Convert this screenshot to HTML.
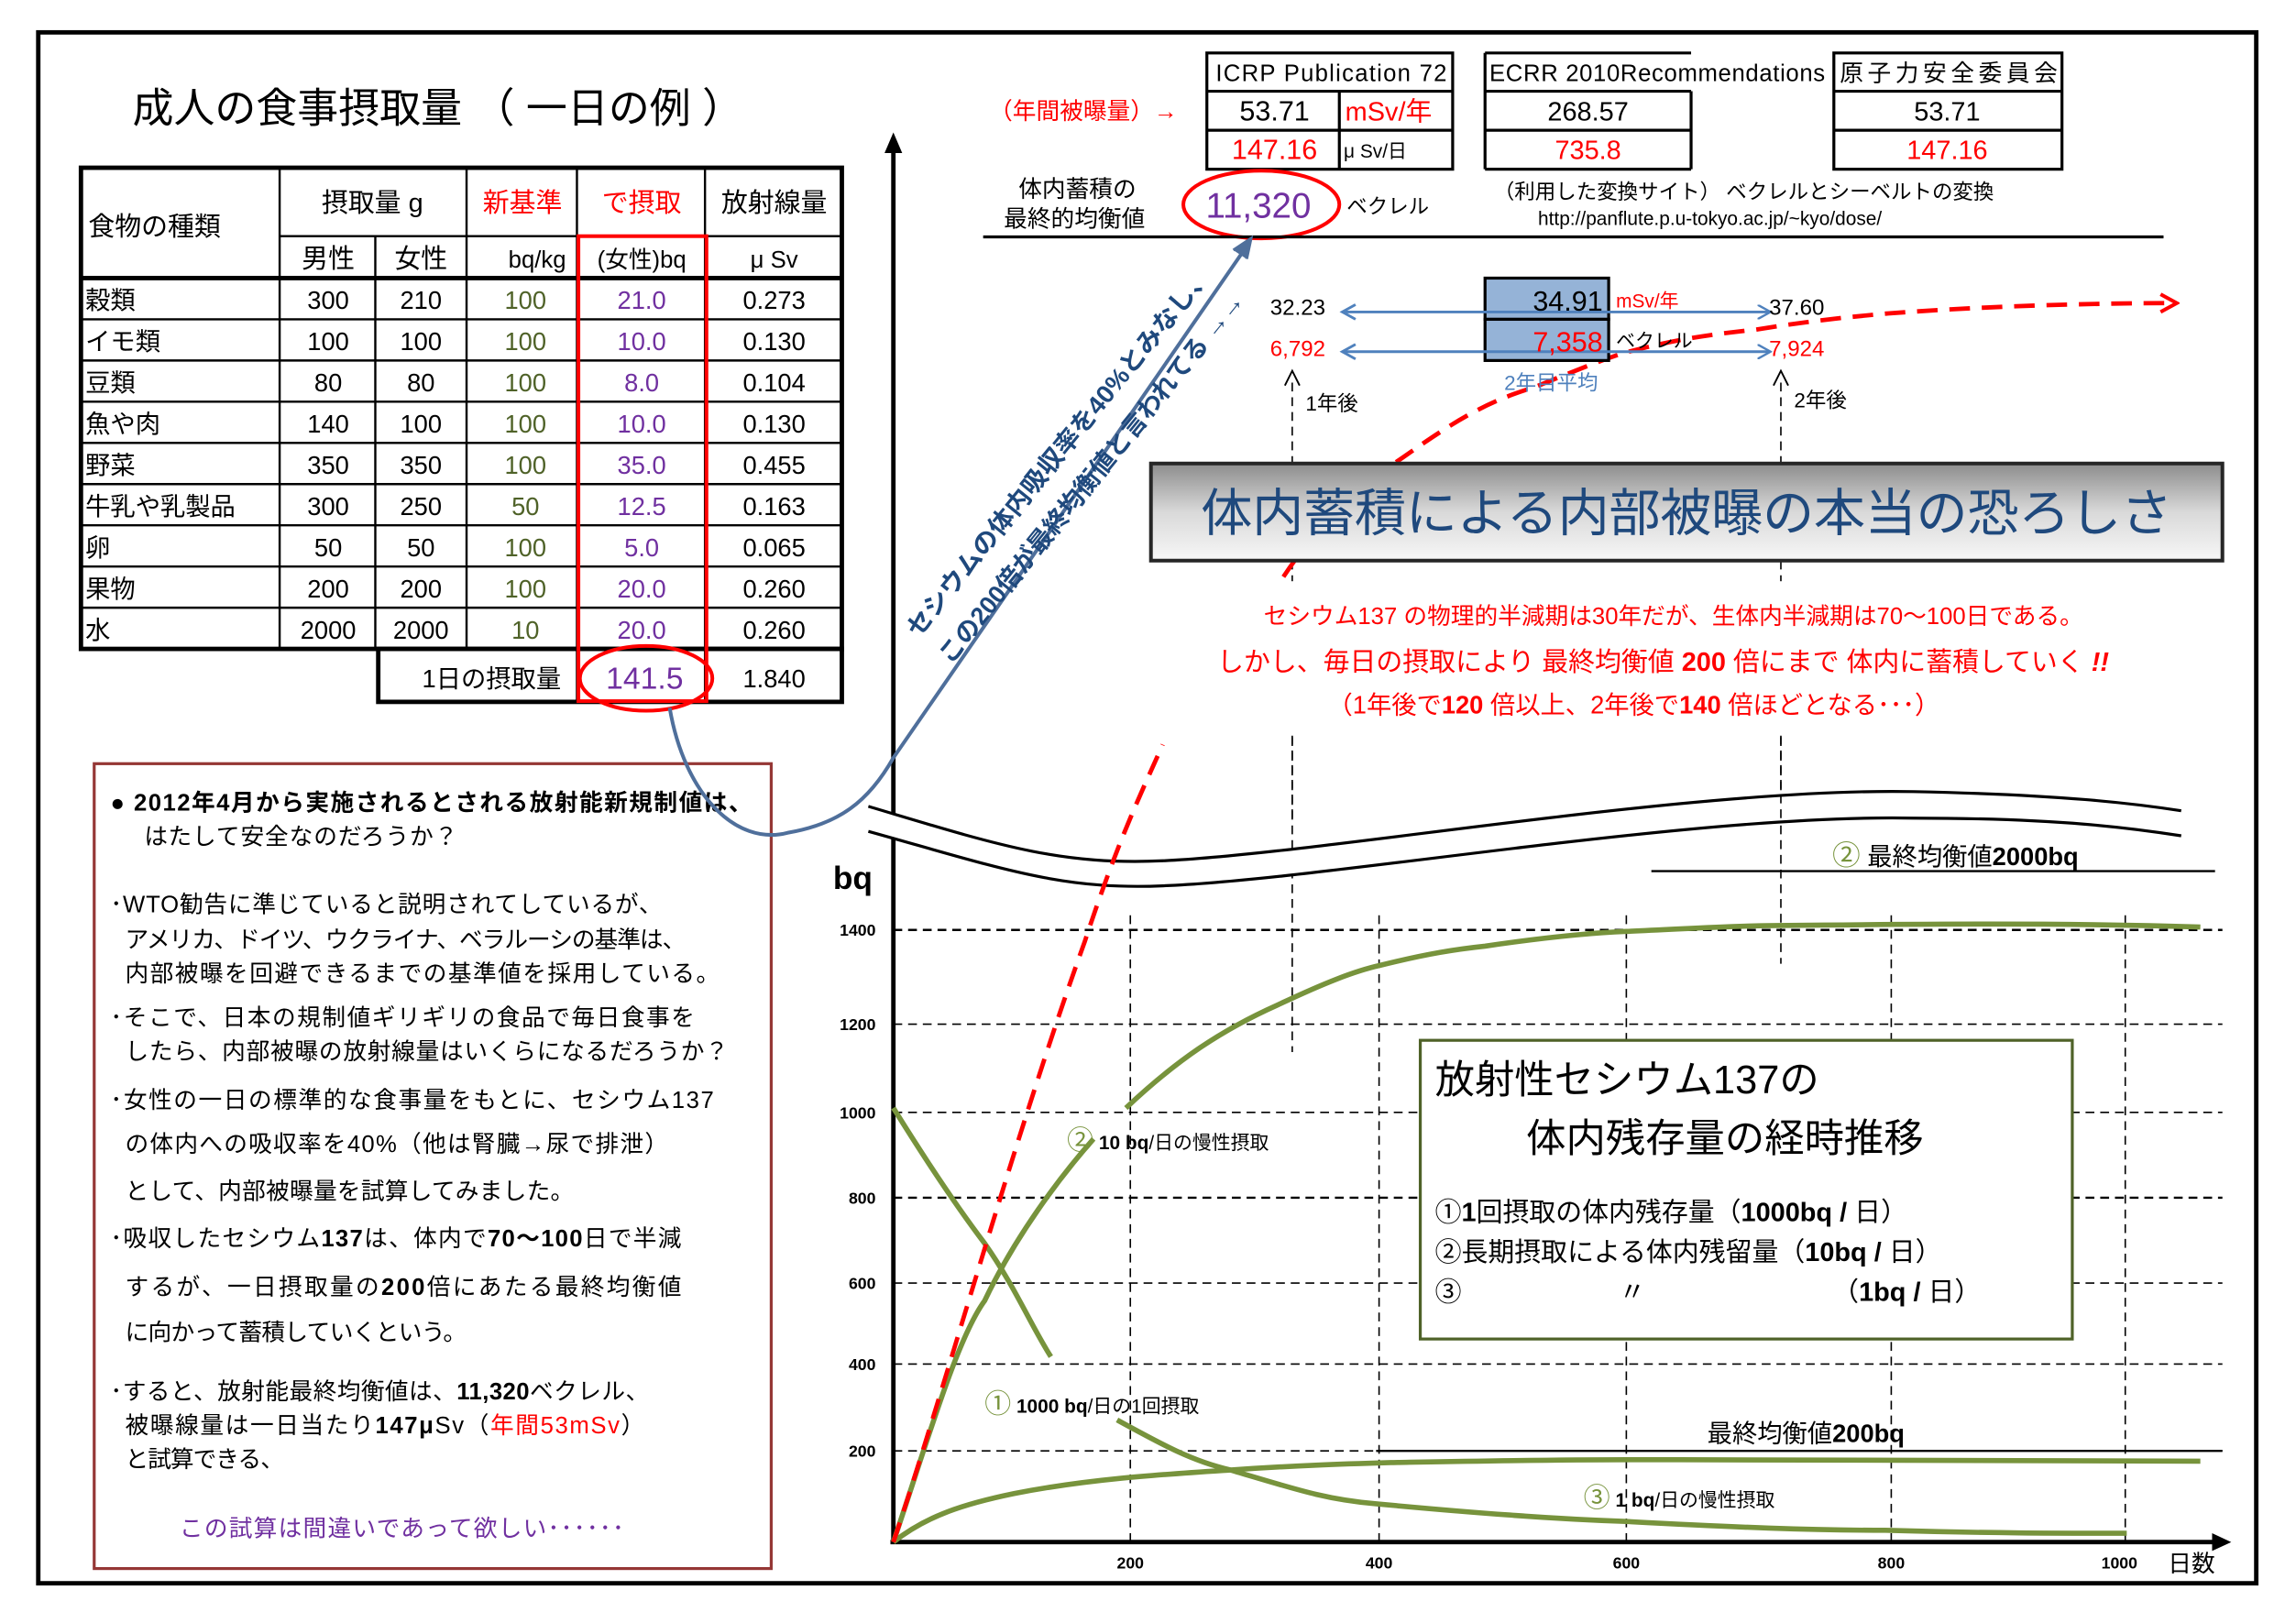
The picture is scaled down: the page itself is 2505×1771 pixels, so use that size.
<!DOCTYPE html>
<html><head><meta charset="utf-8"><style>
html,body{margin:0;padding:0;background:#fff}
svg{display:block}
text{font-family:"Liberation Sans","Noto Sans CJK JP",sans-serif}
</style></head><body>
<svg width="2505" height="1771" viewBox="0 0 1560 1103" preserveAspectRatio="none" xmlns="http://www.w3.org/2000/svg">
<defs>
<linearGradient id="bg" x1="0" y1="0" x2="0" y2="1"><stop offset="0" stop-color="#8c8c8c"/><stop offset="0.5" stop-color="#d9d9d9"/><stop offset="1" stop-color="#f7f7f7"/></linearGradient>
<marker id="ab" markerWidth="10" markerHeight="10" refX="8" refY="5" orient="auto" markerUnits="userSpaceOnUse"><path d="M0,0 L9,5 L0,10" fill="none" stroke="#4f81bd" stroke-width="1.5"/></marker>
<marker id="ar" markerWidth="14" markerHeight="14" refX="11" refY="7" orient="auto" markerUnits="userSpaceOnUse"><path d="M1,1 L12,7 L1,13" fill="none" stroke="#ff0000" stroke-width="2.5"/></marker>
</defs>
<rect x="0" y="0" width="1560" height="1103" fill="#fff"/>
<rect x="26" y="22" width="1507" height="1054" fill="none" stroke="#000" stroke-width="3"/>

<text x="90" y="83" font-size="28">成人の食事摂取量 （ 一日の例 ）</text>

<g stroke="#000" fill="none">
<rect x="55" y="114" width="517" height="327" stroke-width="3"/>
<rect x="257" y="441" width="315" height="36" stroke-width="3"/>
<line x1="55" y1="189" x2="572" y2="189" stroke-width="3"/>
<line x1="190" y1="160.5" x2="572" y2="160.5" stroke-width="1.5"/>
<g stroke-width="1.5">
<line x1="55" y1="217" x2="572" y2="217"/><line x1="55" y1="245" x2="572" y2="245"/><line x1="55" y1="273" x2="572" y2="273"/><line x1="55" y1="301" x2="572" y2="301"/><line x1="55" y1="329" x2="572" y2="329"/><line x1="55" y1="357" x2="572" y2="357"/><line x1="55" y1="385" x2="572" y2="385"/><line x1="55" y1="413" x2="572" y2="413"/>
<line x1="190" y1="114" x2="190" y2="441"/><line x1="255" y1="160.5" x2="255" y2="441"/><line x1="317" y1="114" x2="317" y2="441"/><line x1="392" y1="114" x2="392" y2="477"/><line x1="479" y1="114" x2="479" y2="477"/>
</g>
<rect x="393" y="160.5" width="87" height="316" stroke="#ff0000" stroke-width="2.5"/>
</g>
<g font-size="18" text-anchor="middle">
<text x="60" y="160" text-anchor="start">食物の種類</text>
<text x="253" y="144">摂取量 g</text>
<text x="355" y="144" fill="#ff0000">新基準</text>
<text x="436" y="144" fill="#ff0000">で摂取</text>
<text x="526" y="144">放射線量</text>
<text x="223" y="182">男性</text><text x="286" y="182">女性</text>
<text x="365" y="182" font-size="16">bq/kg</text>
<text x="436" y="182" font-size="16">(女性)bq</text>
<text x="526" y="182" font-size="16">μ Sv</text>
</g>
<g font-size="17" text-anchor="middle">
<g text-anchor="start"><text x="58" y="210">穀類</text><text x="58" y="238">イモ類</text><text x="58" y="266">豆類</text><text x="58" y="294">魚や肉</text><text x="58" y="322">野菜</text><text x="58" y="350">牛乳や乳製品</text><text x="58" y="378">卵</text><text x="58" y="406">果物</text><text x="58" y="434">水</text></g>
<text x="223" y="210">300</text><text x="286" y="210">210</text><text x="357" y="210" fill="#4f6228">100</text><text x="436" y="210" fill="#7030a0">21.0</text><text x="526" y="210">0.273</text>
<text x="223" y="238">100</text><text x="286" y="238">100</text><text x="357" y="238" fill="#4f6228">100</text><text x="436" y="238" fill="#7030a0">10.0</text><text x="526" y="238">0.130</text>
<text x="223" y="266">80</text><text x="286" y="266">80</text><text x="357" y="266" fill="#4f6228">100</text><text x="436" y="266" fill="#7030a0">8.0</text><text x="526" y="266">0.104</text>
<text x="223" y="294">140</text><text x="286" y="294">100</text><text x="357" y="294" fill="#4f6228">100</text><text x="436" y="294" fill="#7030a0">10.0</text><text x="526" y="294">0.130</text>
<text x="223" y="322">350</text><text x="286" y="322">350</text><text x="357" y="322" fill="#4f6228">100</text><text x="436" y="322" fill="#7030a0">35.0</text><text x="526" y="322">0.455</text>
<text x="223" y="350">300</text><text x="286" y="350">250</text><text x="357" y="350" fill="#4f6228">50</text><text x="436" y="350" fill="#7030a0">12.5</text><text x="526" y="350">0.163</text>
<text x="223" y="378">50</text><text x="286" y="378">50</text><text x="357" y="378" fill="#4f6228">100</text><text x="436" y="378" fill="#7030a0">5.0</text><text x="526" y="378">0.065</text>
<text x="223" y="406">200</text><text x="286" y="406">200</text><text x="357" y="406" fill="#4f6228">100</text><text x="436" y="406" fill="#7030a0">20.0</text><text x="526" y="406">0.260</text>
<text x="223" y="434">2000</text><text x="286" y="434">2000</text><text x="357" y="434" fill="#4f6228">10</text><text x="436" y="434" fill="#7030a0">20.0</text><text x="526" y="434">0.260</text>
<text x="334" y="467">1日の摂取量</text>
<text x="438" y="468" fill="#7030a0" font-size="21">141.5</text>
<text x="526" y="467">1.840</text>
</g>
<ellipse cx="439" cy="461" rx="45" ry="22" fill="none" stroke="#ff0000" stroke-width="2.5"/>

<rect x="64" y="519" width="460" height="547" fill="none" stroke="#953735" stroke-width="2"/>
<g font-size="16">
<text x="75" y="551" textLength="436" font-weight="bold">● 2012年4月から実施されるとされる放射能新規制値は、</text>
<text x="98" y="574" textLength="213">はたして安全なのだろうか？</text>
<text x="75" y="620" textLength="375">･WTO勧告に準じていると説明されてしているが、</text>
<text x="85" y="644" textLength="381">アメリカ、ドイツ、ウクライナ、ベラルーシの基準は、</text>
<text x="85" y="667" textLength="404">内部被曝を回避できるまでの基準値を採用している。</text>
<text x="75" y="697" textLength="397">･そこで、日本の規制値ギリギリの食品で毎日食事を</text>
<text x="85" y="720" textLength="410">したら、内部被曝の放射線量はいくらになるだろうか？</text>
<text x="75" y="753" textLength="410">･女性の一日の標準的な食事量をもとに、セシウム137</text>
<text x="85" y="783" textLength="369">の体内への吸収率を40%（他は腎臓→尿で排泄）</text>
<text x="85" y="815" textLength="305">として、内部被曝量を試算してみました。</text>
<text x="75" y="847" textLength="388">･吸収したセシウム<tspan font-weight="bold">137</tspan>は、体内で<tspan font-weight="bold">70～100</tspan>日で半減</text>
<text x="85" y="880" textLength="378">するが、一日摂取量の<tspan font-weight="bold">200</tspan>倍にあたる最終均衡値</text>
<text x="85" y="911" textLength="232">に向かって蓄積していくという。</text>
<text x="75" y="951" textLength="366">･すると、放射能最終均衡値は、<tspan font-weight="bold">11,320</tspan>ベクレル、</text>
<text x="85" y="974" textLength="353">被曝線量は一日当たり<tspan font-weight="bold">147μ</tspan>Sv（<tspan fill="#ff0000">年間53mSv</tspan>）</text>
<text x="85" y="997" textLength="108">と試算できる、</text>
<text x="122" y="1044" textLength="302" fill="#7030a0">この試算は間違いであって欲しい･･････</text>
</g>

<text x="672" y="81" font-size="16" fill="#ff0000">（年間被曝量）→</text>
<g stroke="#000" stroke-width="2" fill="none">
<rect x="820" y="36" width="167" height="79"/>
<line x1="820" y1="62" x2="987" y2="62"/><line x1="820" y1="88.5" x2="987" y2="88.5"/><line x1="910" y1="62" x2="910" y2="115"/>
<line x1="1009" y1="36" x2="1149" y2="36"/><line x1="1009" y1="36" x2="1009" y2="115"/><line x1="1009" y1="62" x2="1149" y2="62"/><line x1="1009" y1="88.5" x2="1149" y2="88.5"/><line x1="1009" y1="115" x2="1149" y2="115"/><line x1="1149" y1="62" x2="1149" y2="115"/>
<rect x="1246" y="36" width="155" height="79"/>
<line x1="1246" y1="62" x2="1401" y2="62"/><line x1="1246" y1="88.5" x2="1401" y2="88.5"/>
</g>
<g font-size="16">
<text x="826" y="55" textLength="157">ICRP Publication 72</text>
<text x="866" y="82" font-size="19" text-anchor="middle">53.71</text>
<text x="914" y="82" font-size="18" fill="#ff0000">mSv/年</text>
<text x="866" y="108" font-size="19" text-anchor="middle" fill="#ff0000">147.16</text>
<text x="913" y="107" font-size="13">μ Sv/日</text>
<text x="1012" y="55" textLength="228">ECRR 2010Recommendations</text>
<text x="1079" y="82" font-size="18" text-anchor="middle">268.57</text>
<text x="1079" y="108" font-size="18" text-anchor="middle" fill="#ff0000">735.8</text>
<text x="1250" y="55" textLength="148">原子力安全委員会</text>
<text x="1323" y="82" font-size="18" text-anchor="middle">53.71</text>
<text x="1323" y="108" font-size="18" text-anchor="middle" fill="#ff0000">147.16</text>
<text x="692" y="134" font-size="16">体内蓄積の</text>
<text x="682" y="154" font-size="16">最終的均衡値</text>
<text x="855" y="148" font-size="24" text-anchor="middle" fill="#7030a0">11,320</text>
<text x="915" y="145" font-size="14">ベクレル</text>
<text x="1015" y="135" font-size="14">（利用した変換サイト） ベクレルとシーベルトの変換</text>
<text x="1045" y="153" font-size="13">http://panflute.p.u-tokyo.ac.jp/~kyo/dose/</text>
</g>
<ellipse cx="857" cy="139" rx="53" ry="23" fill="none" stroke="#ff0000" stroke-width="2.5"/>
<line x1="668" y1="161" x2="1470" y2="161" stroke="#000" stroke-width="2"/>

<g stroke="#000" stroke-width="1" stroke-dasharray="6,4" fill="none">
<line x1="607" y1="632" x2="1510" y2="632" stroke-width="1.5"/>
<line x1="607" y1="696" x2="1510" y2="696"/>
<line x1="607" y1="756" x2="1510" y2="756"/>
<line x1="607" y1="814" x2="1510" y2="814" stroke-width="1.5"/>
<line x1="607" y1="872" x2="1510" y2="872"/>
<line x1="607" y1="927" x2="1510" y2="927"/>
<line x1="607" y1="986" x2="1510" y2="986"/>
<line x1="768" y1="622" x2="768" y2="1048"/>
<line x1="937" y1="622" x2="937" y2="1048"/>
<line x1="1105" y1="622" x2="1105" y2="1048"/>
<line x1="1285" y1="622" x2="1285" y2="1048"/>
<line x1="1444" y1="622" x2="1444" y2="1048"/>
<line x1="878" y1="260" x2="878" y2="318"/>
<line x1="878" y1="381" x2="878" y2="715"/>
<line x1="1210" y1="260" x2="1210" y2="318"/>
<line x1="1210" y1="381" x2="1210" y2="655"/>
</g>
<path d="M873,262 L878,252 L883,262 M1205,262 L1210,252 L1215,262" stroke="#000" stroke-width="1.2" fill="none"/>
<line x1="935" y1="986" x2="1510" y2="986" stroke="#000" stroke-width="1.5"/>
<line x1="1122" y1="592" x2="1505" y2="592" stroke="#000" stroke-width="1.5"/>

<line x1="607" y1="1048" x2="607" y2="100" stroke="#000" stroke-width="3"/>
<path d="M601,104 L607,90 L613,104 Z" fill="#000"/>
<line x1="605" y1="1048" x2="1505" y2="1048" stroke="#000" stroke-width="3"/>
<path d="M1503,1042 L1516,1048 L1503,1054 Z" fill="#000"/>

<path d="M590,548 C680,575 720,588 790,585 C900,580 1150,535 1300,538 C1400,540 1450,546 1482,551 L1482,568 C1450,563 1400,556 1300,556 C1150,553 900,598 790,602 C720,605 680,590 590,565 Z" fill="#fff"/>
<path d="M590,548 C680,575 720,588 790,585 C900,580 1150,535 1300,538 C1400,540 1450,546 1482,551" fill="none" stroke="#000" stroke-width="2"/>
<path d="M590,565 C680,590 720,605 790,602 C900,598 1150,553 1300,556 C1400,556 1450,563 1482,568" fill="none" stroke="#000" stroke-width="2"/>

<g font-size="11" font-weight="bold" text-anchor="end">
<text x="595" y="636">1400</text><text x="595" y="700">1200</text><text x="595" y="760">1000</text><text x="595" y="818">800</text><text x="595" y="876">600</text><text x="595" y="931">400</text><text x="595" y="990">200</text>
</g>
<g font-size="11" font-weight="bold" text-anchor="middle">
<text x="768" y="1066">200</text><text x="937" y="1066">400</text><text x="1105" y="1066">600</text><text x="1285" y="1066">800</text><text x="1440" y="1066">1000</text>
</g>
<text x="1473" y="1068" font-size="16">日数</text>
<text x="566" y="604" font-size="22" font-weight="bold">bq</text>

<g stroke="#77933c" stroke-width="3.5" fill="none">
<path d="M607,1048 C630,980 650,910 669,884 C690,840 720,800 743,774"/>
<path d="M765,753 C800,720 830,700 868,683 C900,668 920,660 938,656 C970,648 990,645 1009,643 C1050,637 1080,634 1105,633 C1150,631 1180,629 1207,629 C1300,628 1400,627 1495,630"/>
<path d="M607,753 C630,790 650,820 669,845 C690,875 700,900 714,922"/>
<path d="M759,965 C790,982 810,993 836,999 C880,1012 900,1019 935,1022 C1000,1028 1050,1032 1105,1034 C1180,1038 1230,1040 1281,1040 C1350,1042 1400,1042 1445,1042"/>
<path d="M607,1048 C630,1030 655,1022 689,1015 C740,1005 790,1002 836,999 C880,996 910,995 945,994 C1000,993 1050,992 1105,992 C1250,992 1400,993 1495,993"/>
</g>

<path d="M607,1048 C640,950 690,770 737,640 C760,570 775,540 790,506" fill="none" stroke="#ff0000" stroke-width="3" stroke-dasharray="14,8"/>
<path d="M872,392 C900,350 925,330 953,311 C990,285 1010,273 1043,263 C1070,252 1090,244 1103,240 C1140,230 1165,227 1193,224 C1230,218 1260,215 1283,213 C1350,208 1420,206 1478,206" fill="none" stroke="#ff0000" stroke-width="3" stroke-dasharray="14,8" marker-end="url(#ar)"/>

<g font-size="13">
<text x="725" y="781"><tspan font-size="18" fill="#77933c">②</tspan> <tspan font-weight="bold">10 bq</tspan>/日の慢性摂取</text>
<text x="669" y="960"><tspan font-size="18" fill="#77933c">①</tspan> <tspan font-weight="bold">1000 bq</tspan>/日の1回摂取</text>
<text x="1076" y="1024"><tspan font-size="18" fill="#77933c">③</tspan> <tspan font-weight="bold">1 bq</tspan>/日の慢性摂取</text>
</g>
<text x="1245" y="588" font-size="17"><tspan fill="#77933c" font-size="19">②</tspan>  最終均衡値<tspan font-weight="bold">2000bq</tspan></text>
<text x="1160" y="980" font-size="17">最終均衡値<tspan font-weight="bold">200bq</tspan></text>

<rect x="965" y="707" width="443" height="203" fill="#fff" stroke="#4f6228" stroke-width="2"/>
<text x="975" y="743" font-size="27">放射性セシウム137の</text>
<text x="1037" y="783" font-size="27">体内残存量の経時推移</text>
<g font-size="18">
<text x="975" y="830">①<tspan font-weight="bold">1</tspan>回摂取の体内残存量（<tspan font-weight="bold">1000bq / </tspan>日）</text>
<text x="975" y="857">②長期摂取による体内残留量（<tspan font-weight="bold">10bq / </tspan>日）</text>
<text x="975" y="884">③</text>
<text x="1100" y="884">〃</text>
<text x="1245" y="884">（<tspan font-weight="bold">1bq / </tspan>日）</text>
</g>

<rect x="795" y="395" width="680" height="105" fill="#fff"/>
<g font-size="16" fill="#ff0000" text-anchor="middle">
<text x="1137" y="424">セシウム137 の物理的半減期は30年だが、生体内半減期は70～100日である。</text>
<text x="1130" y="456" font-size="18">しかし、毎日の摂取により 最終均衡値 <tspan font-weight="bold">200</tspan> 倍にまで 体内に蓄積していく <tspan font-style="italic" font-weight="bold">!!</tspan></text>
<text x="1110" y="485" font-size="17">（1年後で<tspan font-weight="bold">120</tspan> 倍以上、2年後で<tspan font-weight="bold">140</tspan> 倍ほどとなる･･･）</text>
</g>
<line x1="878" y1="500" x2="878" y2="560" stroke="#000" stroke-width="1" stroke-dasharray="6,4"/>
<line x1="1210" y1="500" x2="1210" y2="560" stroke="#000" stroke-width="1" stroke-dasharray="6,4"/>

<rect x="782" y="315" width="728" height="66" fill="url(#bg)" stroke="#262626" stroke-width="2.5"/>
<text x="1146" y="361" font-size="35" fill="#1f497d" text-anchor="middle" textLength="660">体内蓄積による内部被曝の本当の恐ろしさ</text>

<rect x="1009" y="189" width="84" height="28" fill="#95b3d7" stroke="#000" stroke-width="2"/>
<rect x="1009" y="217" width="84" height="28" fill="#95b3d7" stroke="#000" stroke-width="2"/>
<line x1="912" y1="212" x2="1202" y2="212" stroke="#4f81bd" stroke-width="1.8" marker-end="url(#ab)"/>
<line x1="912" y1="239" x2="1202" y2="239" stroke="#4f81bd" stroke-width="1.8" marker-end="url(#ab)"/>
<path d="M921,234 L912,239 L921,244 M921,207 L912,212 L921,217" stroke="#4f81bd" stroke-width="1.8" fill="none"/>
<g font-size="15">
<text x="863" y="214">32.23</text>
<text x="863" y="242" fill="#ff0000">6,792</text>
<text x="1202" y="214">37.60</text>
<text x="1202" y="242" fill="#ff0000">7,924</text>
<text x="1089" y="211" font-size="19" text-anchor="end">34.91</text>
<text x="1089" y="239" font-size="19" text-anchor="end" fill="#ff0000">7,358</text>
<text x="1098" y="209" font-size="13" fill="#ff0000">mSv/年</text>
<text x="1098" y="236" font-size="13">ベクレル</text>
<text x="1022" y="265" font-size="14" fill="#4f81bd">2年目平均</text>
<text x="887" y="279" font-size="14">1年後</text>
<text x="1219" y="277" font-size="14">2年後</text>
</g>

<path d="M455,481 C465,540 500,575 535,566 C570,560 590,545 607,515 L848,166" fill="none" stroke="#4f6f9b" stroke-width="2.5"/>
<path d="M838,170 L850,162 L847,176" fill="#4f6f9b" stroke="#4f6f9b" stroke-width="2"/>
<g font-size="17" font-weight="bold" fill="#1f497d">
<text transform="translate(624,434) rotate(-51)" textLength="318" lengthAdjust="spacingAndGlyphs">セシウムの体内吸収率を40%とみなし、</text>
<text transform="translate(646,452) rotate(-51)" textLength="318" lengthAdjust="spacingAndGlyphs">この200倍が最終均衡値と言われてる →→</text>
</g>
</svg>
</body></html>
